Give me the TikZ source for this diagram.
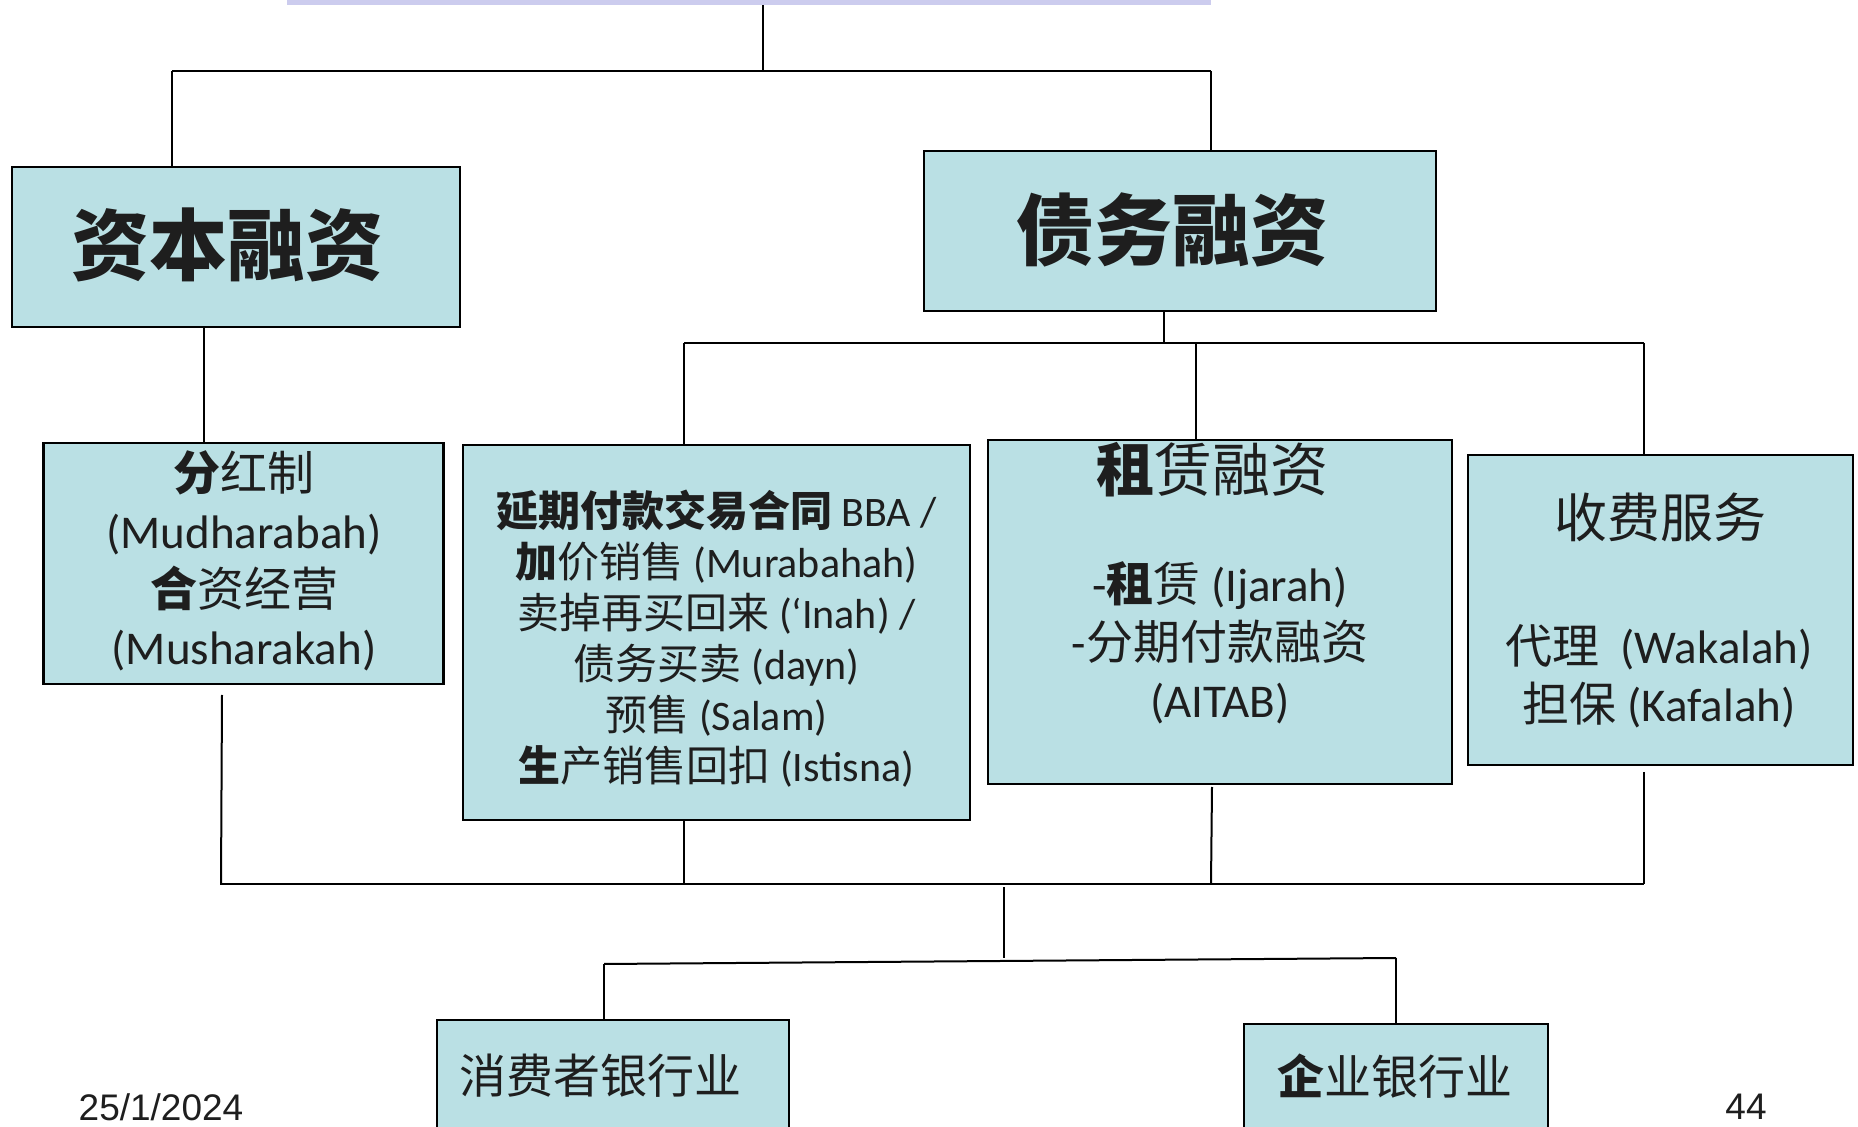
\documentclass[tikz,border=0pt]{standalone}
\usepackage{fontspec}
\setmainfont{Carlito}
\newfontfamily\cjk{Noto Sans CJK SC}
\newfontfamily\arialf{Liberation Sans}
\newcommand\Zh[1]{{\cjk #1}}
\newcommand\ZhB[1]{{\cjk\bfseries #1}}
\definecolor{boxfill}{HTML}{BAE0E4}
\definecolor{barfill}{HTML}{CCCCEE}
\definecolor{ink}{HTML}{1E1E1E}
\tikzset{
  box/.style={draw=black, line width=1.1pt, fill=boxfill, inner sep=0pt},
  conn/.style={draw=black, line width=1pt},
  txt/.style={text=ink, align=center, inner sep=0pt},
  bodyfont/.style={font={\fontsize{23.5pt}{29pt}\selectfont}},
}
\begin{document}
\begin{tikzpicture}[x=0.5pt, y=-0.5pt]
\useasboundingbox (0,0) rectangle (1858,1127);
\clip (0,0) rectangle (1858,1127);
% top bar
\node[fill=barfill, inner sep=0pt, minimum width=462pt, minimum height=2.5pt] (bar) at (749,2.5) {};
% boxes
\node[box, minimum width=224pt, minimum height=80pt] (equity) at (236,247) {};
\node[box, minimum width=256pt, minimum height=80pt] (debt) at (1180,231) {};
\node[box, minimum width=200pt, minimum height=120.5pt] (mud) at (243.5,563.5) {};
\node[box, minimum width=253.5pt, minimum height=187.5pt] (bba) at (716.5,632.5) {};
\node[box, minimum width=232pt, minimum height=172pt] (lease) at (1220,612) {};
\node[box, minimum width=192.5pt, minimum height=155pt] (fee) at (1660.5,610) {};
\node[box, minimum width=176pt, minimum height=70pt] (cons) at (613,1090) {};
\node[box, minimum width=152pt, minimum height=68pt] (corp) at (1396,1092) {};
% texts
\node[txt, font={\fontsize{39pt}{44pt}\selectfont}] (equityt) at (227,245) {\ZhB{资本融资}};
\node[txt, font={\fontsize{39pt}{44pt}\selectfont}] (debtt) at (1172,230) {\ZhB{债务融资}};
\node[txt, bodyfont] (mudt) at (244,561) {\ZhB{分}\Zh{红制}\\(Mudharabah)\\\ZhB{合}\Zh{资经营}\\(Musharakah)};
\node[txt, font={\fontsize{21pt}{25.5pt}\selectfont}] (bbat) at (716.5,639) {\ZhB{延期付款交易合同} BBA /\\\ZhB{加}\Zh{价销售} (Murabahah)\\\Zh{卖掉再买回来} (‘Inah) /\\\Zh{债务买卖} (dayn)\\\Zh{预售} (Salam)\\\ZhB{生}\Zh{产销售回扣} (Istisna)};
\node[txt, font={\fontsize{29pt}{34pt}\selectfont}] (leaset) at (1212,470) {\ZhB{租}\Zh{赁融资}};
\node[txt, bodyfont] (leaseb) at (1220,643) {-\ZhB{租}\Zh{赁} (Ijarah)\\-\Zh{分期付款融资}\\(AITAB)};
\node[txt, font={\fontsize{26.5pt}{32pt}\selectfont}] (feet) at (1660,517) {\Zh{收费服务}};
\node[txt, bodyfont] (feeb) at (1659,676) {\Zh{代理}\ \ (Wakalah)\\\Zh{担保} (Kafalah)};
\node[txt, bodyfont] (const) at (600,1076) {\Zh{消费者银行业}};
\node[txt, bodyfont] (corpt) at (1395,1076) {\ZhB{企}\Zh{业银行业}};
\node[txt, font={\arialf\fontsize{18.5pt}{22pt}\selectfont}] (date) at (161,1107) {25/1/2024};
\node[txt, font={\arialf\fontsize{18.5pt}{22pt}\selectfont}] (page) at (1746,1107) {44};
% junction coordinates
\coordinate (j1) at (763,71);
\coordinate (j1l) at (172,71);
\coordinate (j1r) at (1211,71);
\coordinate (ex) at (204,0);
\coordinate (j2) at (1164,343);
\coordinate (j2l) at (684,343);
\coordinate (j2m) at (1196,343);
\coordinate (j2r) at (1644,343);
\coordinate (m1) at (222,695);
\coordinate (j3l) at (220,884);
\coordinate (j3r) at (1644,884);
\coordinate (b1) at (684,884);
\coordinate (l1) at (1212,787);
\coordinate (l2) at (1211,884);
\coordinate (f1) at (1644,772);
\coordinate (j3) at (1004,887);
\coordinate (j4) at (1004,958);
\coordinate (j4l) at (604,964);
\coordinate (j4r) at (1396,958);
% connectors
\draw[conn] (bar.south -| j1) -- (j1);
\draw[conn] (j1l) -- (j1r);
\draw[conn] (j1l) -- (j1l |- equity.north);
\draw[conn] (j1r) -- (j1r |- debt.north);
\draw[conn] (equity.south -| ex) -- (mud.north -| ex);
\draw[conn] (debt.south -| j2) -- (j2);
\draw[conn] (j2l) -- (j2r);
\draw[conn] (j2l) -- (j2l |- bba.north);
\draw[conn] (j2m) -- (j2m |- lease.north);
\draw[conn] (j2r) -- (j2r |- fee.north);
\draw[conn] (m1) -- (221,884);
\draw[conn] (j3l) -- (j3r);
\draw[conn] (bba.south -| b1) -- (b1);
\draw[conn] (l1) -- (l2);
\draw[conn] (f1) -- (j3r);
\draw[conn] (j3) -- (j4);
\draw[conn] (j4l) -- (j4r);
\draw[conn] (j4l) -- (j4l |- cons.north);
\draw[conn] (j4r) -- (j4r |- corp.north);
\end{tikzpicture}
\end{document}
